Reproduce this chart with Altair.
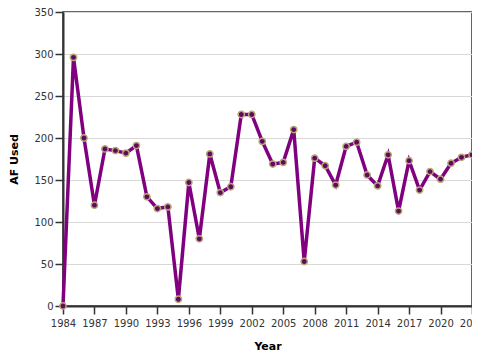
import altair as alt
import pandas as pd

years = list(range(1984, 2024))
af_used = [0, 296, 200, 120, 187, 185, 182, 191, 130, 116,
           118, 8, 147, 80, 181, 135, 142, 228, 228, 196,
           169, 171, 210, 53, 176, 167, 144, 190, 195, 156,
           143, 180, 113, 173, 138, 160, 151, 170, 177, 180]
x_ticks = list(range(1984, 2024, 3))

df = pd.DataFrame({"Year": years, "AF Used": af_used})

x = alt.X("Year:Q", title="Year",
          scale=alt.Scale(domain=[1984, 2023], nice=False, zero=False),
          axis=alt.Axis(values=x_ticks, format="d", grid=False, labelFlush=False,
                        domainColor="#333", domainWidth=2, tickColor="#333",
                        tickWidth=1.5, tickSize=8, labelPadding=4, labelColor="#333",
                        labelFontSize=10, titleFontSize=11, titlePadding=12))
y = alt.Y("AF Used:Q", title="AF Used",
          scale=alt.Scale(domain=[0, 350], nice=False),
          axis=alt.Axis(values=list(range(0, 351, 50)), grid=True,
                        gridColor="#d8d8d8", domainColor="#333", domainWidth=2,
                        tickColor="#333", tickWidth=1.5, tickSize=8,
                        labelColor="#333", labelFontSize=10, titleFontSize=11,
                        titlePadding=14))

base = alt.Chart(df).encode(x=x, y=y)
line = base.mark_line(color="#800080", strokeWidth=3.5)
pts = base.mark_point(filled=True, fill="#5e0a5e", stroke="#b8a878",
                      strokeWidth=1.5, size=40, opacity=1)

chart = (line + pts).properties(
    width=409, height=294,
    autosize=alt.AutoSizeParams(type="none"),
    padding={"left": 55, "top": 4, "right": 0, "bottom": 46},
).configure_view(
    stroke="#333", strokeWidth=1.5
).configure_axis(labelFont="DejaVu Sans", titleFont="DejaVu Sans")

chart.save("out.html", embed_options={"renderer": "svg", "actions": False})
